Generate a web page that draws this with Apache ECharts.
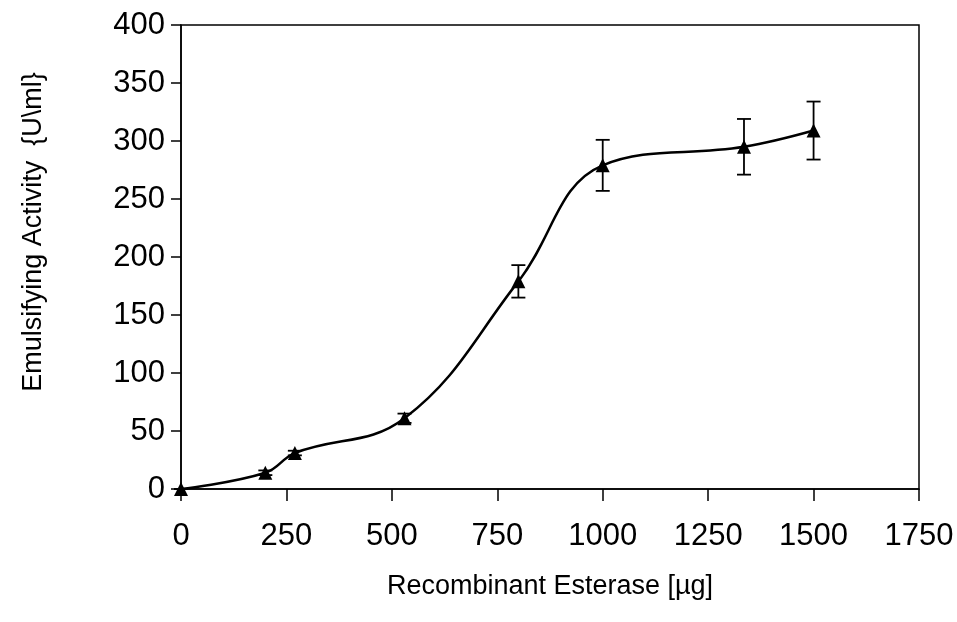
<!DOCTYPE html>
<html>
<head>
<meta charset="utf-8">
<script src="https://cdn.jsdelivr.net/npm/echarts@6/dist/echarts.min.js"></script>
<style>
html,body{margin:0;padding:0;background:#fff;}
#chart{width:957px;height:622px;}
</style>
</head>
<body>
<div id="chart"></div>
<script>
// Data
const esterase = [0, 200, 270, 530, 800, 1000, 1335, 1500];        // µg
const activity = [0, 14, 31, 61, 179, 279, 295, 309];              // U/ml
const errors   = [0, 2, 2, 4, 14, 22, 24, 25];                     // ± U/ml
const xTicks = [0, 250, 500, 750, 1000, 1250, 1500, 1750];
const yTicks = [0, 50, 100, 150, 200, 250, 300, 350, 400];

const FONT = '"Liberation Sans", Arial, sans-serif';
const chart = echarts.init(document.getElementById('chart'));

const points = esterase.map((x, i) => [x, activity[i]]);
const errData = esterase.map((x, i) => [x, activity[i] - errors[i], activity[i] + errors[i]]);

chart.setOption({
  animation: false,
  backgroundColor: '#fff',
  grid: {
    left: 181, right: 38, top: 25, bottom: 133,
    show: true, borderColor: '#000', borderWidth: 1.5, backgroundColor: 'transparent'
  },
  xAxis: {
    type: 'value',
    min: xTicks[0], max: xTicks[xTicks.length - 1], interval: 250,
    name: 'Recombinant Esterase [µg]',
    nameLocation: 'middle',
    nameGap: 84,
    nameTextStyle: { fontFamily: FONT, fontSize: 27, color: '#000' },
    axisLine: { show: true, lineStyle: { color: '#000', width: 1.5 } },
    axisTick: { show: true, inside: false, length: 12, lineStyle: { color: '#000', width: 1.5 } },
    axisLabel: { fontFamily: FONT, fontSize: 31, color: '#000', margin: 32, formatter: v => String(v) },
    splitLine: { show: false }
  },
  yAxis: {
    type: 'value',
    min: yTicks[0], max: yTicks[yTicks.length - 1], interval: 50,
    name: 'Emulsifying Activity  {U\\ml}',
    nameLocation: 'middle',
    nameGap: 134,
    nameTextStyle: { fontFamily: FONT, fontSize: 27, color: '#000', padding: [0, 0, 0, 50] },
    axisLine: { show: true, lineStyle: { color: '#000', width: 1.5 } },
    axisTick: { show: true, inside: false, length: 10, lineStyle: { color: '#000', width: 1.5 } },
    axisLabel: { fontFamily: FONT, fontSize: 31, color: '#000', margin: 16, formatter: v => String(v) },
    splitLine: { show: false }
  },
  series: [
    {
      type: 'custom',
      data: errData,
      z: 3,
      renderItem: function (params, api) {
        const x = api.value(0);
        const lo = api.coord([x, api.value(1)]);
        const hi = api.coord([x, api.value(2)]);
        const cap = 7;
        const style = { stroke: '#000', lineWidth: 1.8, fill: null };
        return {
          type: 'group',
          children: [
            { type: 'line', shape: { x1: lo[0], y1: lo[1], x2: hi[0], y2: hi[1] }, style: style },
            { type: 'line', shape: { x1: hi[0] - cap, y1: hi[1], x2: hi[0] + cap, y2: hi[1] }, style: style },
            { type: 'line', shape: { x1: lo[0] - cap, y1: lo[1], x2: lo[0] + cap, y2: lo[1] }, style: style }
          ]
        };
      }
    },
    {
      type: 'line',
      data: points,
      smooth: 0.4,
      z: 4,
      symbol: 'triangle',
      symbolSize: 14,
      itemStyle: { color: '#000' },
      lineStyle: { color: '#000', width: 2.5 }
    }
  ]
});
</script>
</body>
</html>
